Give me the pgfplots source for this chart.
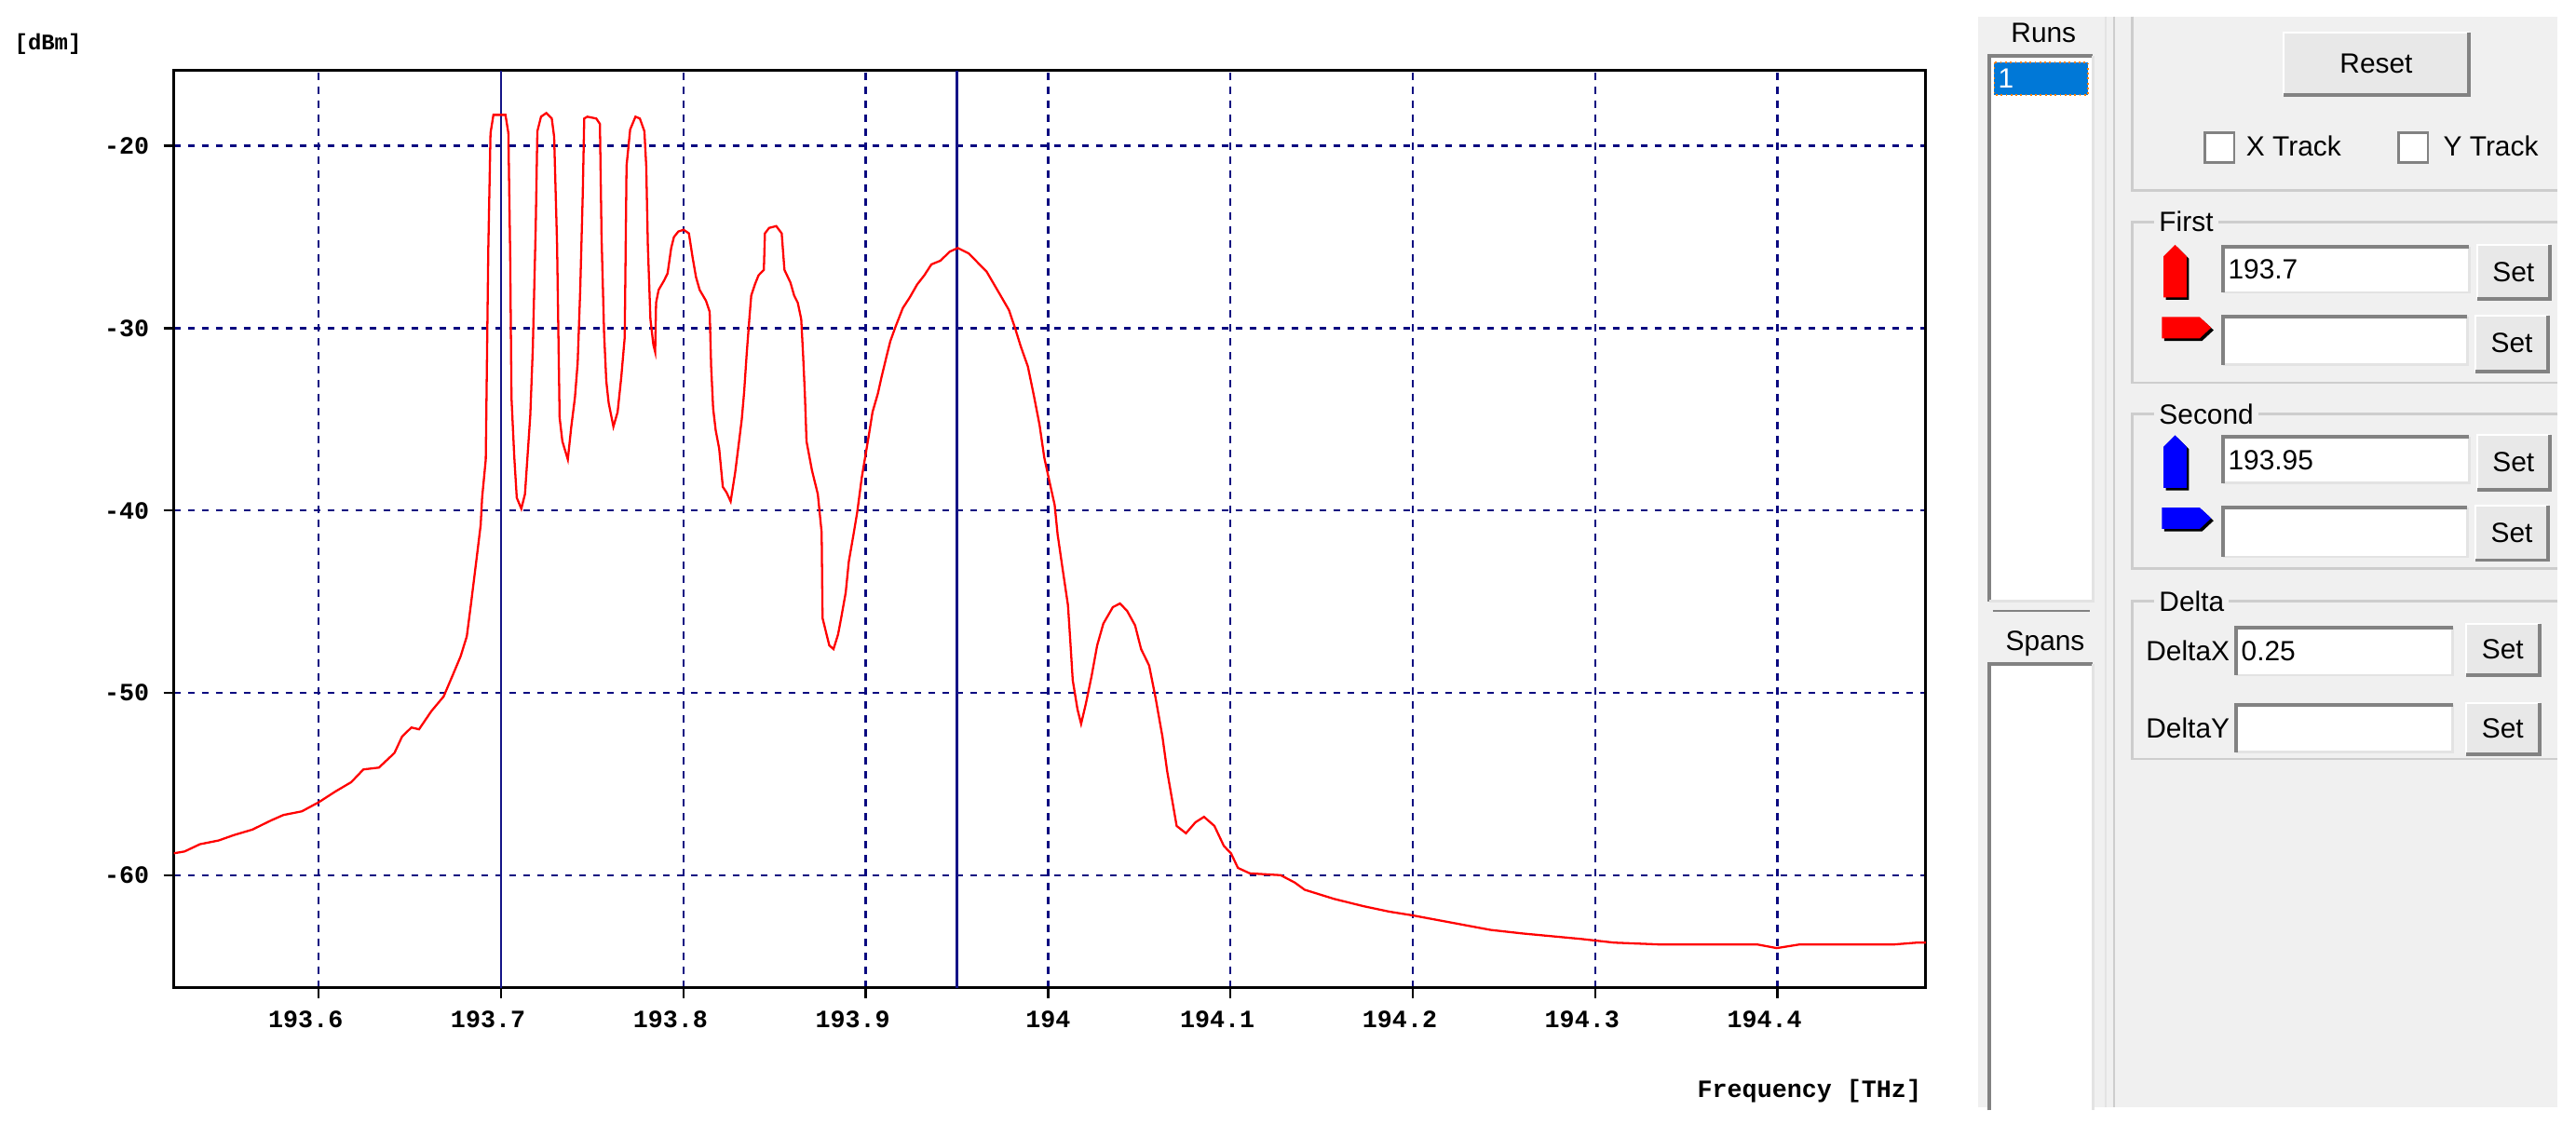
\documentclass[border=0pt]{standalone}
\usepackage{pgfplots}
\pgfplotsset{compat=1.18}
\usepackage{fontspec}
\setmainfont{Liberation Sans}
\newfontfamily\monofont{Liberation Mono}

\definecolor{gridblue}{RGB}{10,10,128}
\definecolor{markblue}{RGB}{20,20,135}
\definecolor{panelbg}{RGB}{240,240,240}
\definecolor{btnface}{RGB}{232,232,232}
\definecolor{darkedge}{RGB}{130,130,130}
\definecolor{lightedge}{RGB}{227,227,227}
\definecolor{groupline}{RGB}{205,205,205}
\definecolor{selblue}{RGB}{0,120,215}

\newcommand{\panelfont}{\fontsize{8.5}{10}\selectfont}
\newcommand{\tickfont}{\monofont\bfseries\fontsize{7.6}{9}\selectfont}

% x1,y1,x2,y2,label  (panel coordinates, y down)
\newcommand{\btn}[5]{%
  \fill[btnface] (#1,#2) rectangle (#3,#4);
  \draw[white, line width=0.6pt] (#1,#4) -- (#1,#2) -- (#3,#2);
  \draw[darkedge, line width=1.1pt] (#1,#4) -- (#3,#4) -- (#3,#2);
  \node[font=\panelfont] at ({(#1+#3)/2},{(#2+#4)/2}) {#5};}
\newcommand{\tbox}[5]{%
  \fill[white] (#1,#2) rectangle (#3,#4);
  \draw[lightedge, line width=0.8pt] (#1,#4) -- (#3,#4) -- (#3,#2);
  \draw[darkedge, line width=1.1pt] (#1,#4) -- (#1,#2) -- (#3,#2);
  \node[font=\panelfont, anchor=west, inner sep=0pt] at ({#1+3},{(#2+#4)/2}) {#5};}
\newcommand{\uparr}[3]{%
  \begin{scope}[shift={(#1,#2)}]
    \fill[black] (1.5,33.5) -- (1.5,8.5) -- (8.5,1.5) -- (15.5,8.5) -- (15.5,33.5) -- cycle;
    \fill[#3] (0,32) -- (0,7) -- (7,0) -- (14,7) -- (14,32) -- cycle;
  \end{scope}}
\newcommand{\rtarr}[3]{%
  \begin{scope}[shift={(#1,#2)}]
    \fill[black] (1.5,1.5) -- (24.5,1.5) -- (31.5,8) -- (24.5,14.5) -- (1.5,14.5) -- cycle;
    \fill[#3] (0,0) -- (23,0) -- (30,6.5) -- (23,13) -- (0,13) -- cycle;
  \end{scope}}
\newcommand{\group}[3]{% top, bottom, label
  \draw[groupline, line width=0.8pt] (1557,#1) -- (1298,#1) -- (1298,#2) -- (1557,#2);
  \node[font=\panelfont, anchor=west, fill=panelbg, inner xsep=1.5pt, inner ysep=0pt] at (1311,#1) {#3};}

\begin{document}
\begin{tikzpicture}
\fill[white] (0,0) rectangle (27.66cm,12.066cm);

\begin{axis}[
    at={(1.866cm,1.46cm)}, anchor=south west,
    width=18.811cm, height=9.85cm, scale only axis,
    xmin=193.5205, xmax=194.4813,
    ymin=-66.17, ymax=-15.86,
    xtick={193.6,193.7,193.8,193.9,194.0,194.1,194.2,194.3,194.4},
    xticklabels={193.6\kern.28cm,193.7\kern.28cm,193.8\kern.28cm,193.9\kern.28cm,194,194.1\kern.28cm,194.2\kern.28cm,194.3\kern.28cm,194.4\kern.28cm},
    ytick={-60,-50,-40,-30,-20},
    yticklabels={-60,-50,-40,-30,-20},
    xtick pos=bottom, ytick pos=left,
    tick align=outside, major tick length=0.11cm,
    tick style={black, line width=0.7pt},
    axis line style={black, line width=0.9pt},
    grid=major,
    grid style={gridblue, line width=0.7pt, dash pattern=on 0.075cm off 0.075cm},
    ticklabel style={font=\tickfont, text=black},
    xticklabel style={yshift=-0.02cm},
    yticklabel style={xshift=-0.03cm},
    clip=true,
]
% marker lines (first / second)
\addplot[markblue, line width=0.7pt] coordinates {(193.7,-66.17) (193.7,-15.86)};
\addplot[markblue, line width=0.7pt] coordinates {(193.95,-66.17) (193.95,-15.86)};
% spectrum
\addplot[red, line width=0.65pt] coordinates {
(193.5205,-58.8) (193.5264,-58.7) (193.5349,-58.3) (193.5450,-58.1) (193.5535,-57.8)
(193.5636,-57.5) (193.5738,-57.0) (193.5806,-56.7) (193.5907,-56.5) (193.6000,-56.0)
(193.6093,-55.4) (193.6178,-54.9) (193.6245,-54.2) (193.6330,-54.1) (193.6415,-53.3)
(193.6457,-52.4) (193.6508,-51.9) (193.6550,-52.0) (193.6618,-51.0) (193.6685,-50.2)
(193.6736,-49.0) (193.6778,-48.0) (193.6812,-46.9) (193.6834,-45.2) (193.6855,-43.5)
(193.6871,-42.2) (193.6888,-40.8) (193.6896,-39.3) (193.6916,-37.2) (193.6930,-25.6)
(193.6942,-19.3) (193.6958,-18.3) (193.7024,-18.3) (193.7040,-19.3) (193.7050,-26.0)
(193.7057,-33.8) (193.7072,-37.0) (193.7086,-39.3) (193.7111,-39.9) (193.7131,-39.1)
(193.7160,-34.8) (193.7174,-31.1) (193.7190,-24.4) (193.7199,-19.2) (193.7219,-18.4)
(193.7248,-18.2) (193.7278,-18.5) (193.7291,-19.5) (193.7307,-25.4) (193.7321,-34.9)
(193.7336,-36.2) (193.7366,-37.2) (193.7385,-35.4) (193.7405,-33.8) (193.7420,-31.9)
(193.7434,-27.9) (193.7448,-22.6) (193.7456,-18.5) (193.7473,-18.4) (193.7522,-18.5)
(193.7542,-18.8) (193.7551,-25.0) (193.7565,-30.3) (193.7577,-32.9) (193.7590,-34.1)
(193.7616,-35.4) (193.7639,-34.6) (193.7659,-32.7) (193.7678,-30.5) (193.7688,-21.1)
(193.7708,-19.1) (193.7737,-18.4) (193.7761,-18.5) (193.7786,-19.2) (193.7796,-21.1)
(193.7805,-25.5) (193.7819,-29.5) (193.7835,-30.9) (193.7845,-31.3) (193.7850,-28.6)
(193.7864,-27.9) (193.7893,-27.4) (193.7913,-27.0) (193.7933,-25.6) (193.7948,-25.0)
(193.7972,-24.7) (193.8001,-24.6) (193.8030,-24.8) (193.8050,-26.1) (193.8069,-27.2)
(193.8089,-27.9) (193.8124,-28.5) (193.8144,-29.1) (193.8152,-32.1) (193.8163,-34.4)
(193.8177,-35.6) (193.8196,-36.6) (193.8216,-38.7) (193.8236,-39.0) (193.8259,-39.5)
(193.8284,-37.9) (193.8304,-36.3) (193.8320,-35.0) (193.8333,-33.5) (193.8347,-31.4)
(193.8363,-29.3) (193.8372,-28.2) (193.8392,-27.6) (193.8412,-27.1) (193.8441,-26.8)
(193.8447,-24.8) (193.8470,-24.5) (193.8509,-24.4) (193.8539,-24.8) (193.8554,-26.8)
(193.8587,-27.5) (193.8607,-28.2) (193.8627,-28.6) (193.8646,-29.5) (193.8656,-31.4)
(193.8666,-33.6) (193.8675,-36.2) (193.8705,-37.8) (193.8737,-39.1) (193.8758,-41.2)
(193.8763,-45.9) (193.8800,-47.4) (193.8823,-47.6) (193.8848,-46.8) (193.8865,-45.9)
(193.8890,-44.5) (193.8907,-42.8) (193.8933,-41.3) (193.8953,-40.1) (193.8978,-38.2)
(193.9018,-35.8) (193.9037,-34.6) (193.9066,-33.6) (193.9086,-32.7) (193.9115,-31.5)
(193.9135,-30.7) (193.9164,-29.9) (193.9203,-28.9) (193.9242,-28.3) (193.9282,-27.6)
(193.9321,-27.1) (193.9360,-26.5) (193.9409,-26.3) (193.9461,-25.8) (193.9505,-25.6)
(193.9565,-25.9) (193.9604,-26.3) (193.9663,-26.9) (193.9733,-28.1) (193.9785,-29.0)
(193.9819,-30.0) (193.9850,-31.0) (193.9889,-32.1) (193.9922,-33.7) (193.9953,-35.3)
(193.9979,-37.1) (194.0005,-38.3) (194.0036,-39.7) (194.0052,-41.3) (194.0078,-43.1)
(194.0109,-45.2) (194.0122,-47.2) (194.0135,-49.3) (194.0161,-50.9) (194.0181,-51.7)
(194.0207,-50.6) (194.0238,-49.1) (194.0269,-47.4) (194.0303,-46.2) (194.0355,-45.3)
(194.0394,-45.1) (194.0433,-45.5) (194.0477,-46.3) (194.0510,-47.6) (194.0554,-48.5)
(194.0588,-50.2) (194.0627,-52.4) (194.0653,-54.3) (194.0679,-55.8) (194.0705,-57.3)
(194.0756,-57.7) (194.0808,-57.1) (194.0855,-56.8) (194.0912,-57.3) (194.0964,-58.4)
(194.1003,-58.8) (194.1041,-59.6) (194.1106,-59.9) (194.1275,-60.0) (194.1352,-60.4)
(194.1407,-60.8) (194.1568,-61.3) (194.1729,-61.7) (194.1871,-62.0) (194.1996,-62.2)
(194.2211,-62.6) (194.2425,-63.0) (194.2604,-63.2) (194.2925,-63.5) (194.3104,-63.7)
(194.3354,-63.8) (194.3889,-63.8) (194.3996,-64.0) (194.4121,-63.8) (194.4639,-63.8)
(194.4764,-63.7) (194.4813,-63.7)
};
\end{axis}

% everything else in screen pixels of the 1568x684 view, y pointing down
\begin{scope}[shift={(0cm,12.066cm)}, x=0.01764cm, y=-0.01764cm]
  \node[font=\monofont\bfseries\fontsize{6.8}{8}\selectfont, anchor=west, inner sep=0pt] at (8.5,27) {[dBm]};
  \node[font=\tickfont, anchor=east, inner sep=0pt] at (1170,664) {Frequency [THz]};

  % control panel
  \fill[panelbg] (1204,10) rectangle (1557,674);
  \draw[lightedge, line width=0.6pt] (1282,10) -- (1282,674);
  \draw[groupline, line width=0.6pt] (1287,10) -- (1287,674);

  \node[font=\panelfont] at (1244,20) {Runs};
  \fill[white] (1211,34) rectangle (1274,366);
  \draw[darkedge, line width=1.2pt] (1211,366) -- (1211,34) -- (1274,34);
  \draw[lightedge, line width=0.8pt] (1211,366) -- (1274,366) -- (1274,34);
  \fill[selblue] (1214,38) rectangle (1271,58);
  \draw[orange, densely dotted, line width=0.5pt] (1214,38) rectangle (1271,58);
  \node[font=\panelfont, text=white, anchor=west, inner sep=0pt] at (1216,48) {1};
  \draw[darkedge, line width=0.6pt] (1213,372) -- (1272,372);

  \node[font=\panelfont] at (1245,392) {Spans};
  \fill[white] (1211,404) rectangle (1274,676);
  \draw[darkedge, line width=1.2pt] (1211,676) -- (1211,404) -- (1274,404);
  \draw[lightedge, line width=0.8pt] (1274,404) -- (1274,676);

  % top group
  \draw[groupline, line width=0.8pt] (1298,10) -- (1298,116) -- (1557,116);
  \btn{1390}{20}{1503}{58}{Reset}
  \fill[white] (1342,81) rectangle (1360,99);
  \draw[darkedge, line width=0.8pt] (1342,81) rectangle (1360,99);
  \node[font=\panelfont, anchor=west, inner sep=0pt] at (1367,89) {X Track};
  \fill[white] (1460,81) rectangle (1478,99);
  \draw[darkedge, line width=0.8pt] (1460,81) rectangle (1478,99);
  \node[font=\panelfont, anchor=west, inner sep=0pt] at (1487,89) {Y Track};

  % First
  \group{135}{233}{First}
  \uparr{1317}{149}{red}
  \tbox{1353}{150}{1503}{178}{193.7}
  \btn{1508}{149}{1552}{182}{Set}
  \rtarr{1316}{193}{red}
  \tbox{1353}{193}{1502}{222}{}
  \btn{1507}{192}{1551}{226}{Set}

  % Second
  \group{252}{346}{Second}
  \uparr{1317}{265}{blue}
  \tbox{1353}{266}{1503}{294}{193.95}
  \btn{1508}{265}{1552}{298}{Set}
  \rtarr{1316}{309}{blue}
  \tbox{1353}{309}{1502}{339}{}
  \btn{1507}{308}{1551}{341}{Set}

  % Delta
  \group{366}{462}{Delta}
  \node[font=\panelfont, anchor=west, inner sep=0pt] at (1306,396) {DeltaX};
  \tbox{1361}{382}{1493}{411}{0.25}
  \btn{1501}{380}{1546}{411}{Set}
  \node[font=\panelfont, anchor=west, inner sep=0pt] at (1306,443) {DeltaY};
  \tbox{1361}{429}{1493}{458}{}
  \btn{1501}{428}{1546}{459}{Set}
\end{scope}

\pgfresetboundingbox
\path[use as bounding box] (0,0) rectangle (27.66cm,12.066cm);
\end{tikzpicture}
\end{document}
